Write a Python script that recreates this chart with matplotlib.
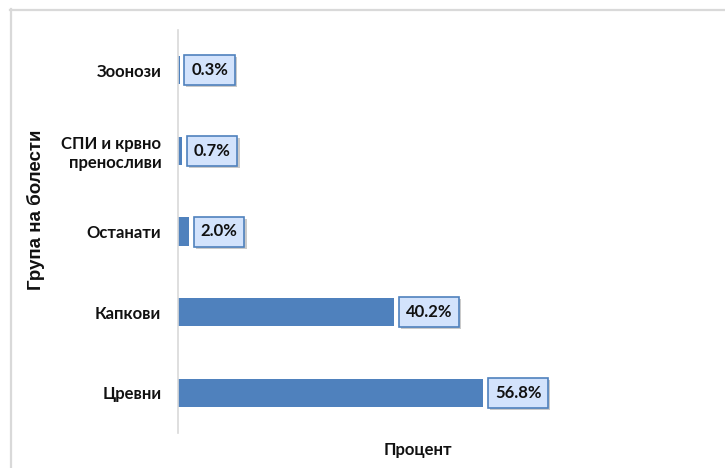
import matplotlib
matplotlib.use("Agg")
import matplotlib.pyplot as plt
from matplotlib.lines import Line2D
import matplotlib.patheffects as pe

categories = ["Цревни", "Капкови", "Останати", "СПИ и крвно\nпреносливи", "Зоонози"]
values = [56.8, 40.2, 2.0, 0.7, 0.3]
labels = ["56.8%", "40.2%", "2.0%", "0.7%", "0.3%"]

FONT = ["Lato", "DejaVu Sans"]
bar_color = "#4f81bd"

fig = plt.figure(figsize=(7.25, 4.68), dpi=100)
ax = fig.add_axes([178 / 725, 1 - 433 / 468, (715 - 178) / 725, (433 - 30) / 468])

y = list(range(len(categories)))
ax.barh(y, values, height=0.35, color=bar_color, zorder=2)
ax.set_xlim(0, 100)
ax.set_ylim(-0.5, len(categories) - 0.5)

for yi, v, lab in zip(y, values, labels):
    t = ax.annotate(lab, xy=(v, yi), xytext=(8.5, 0), textcoords="offset points",
                    ha="left", va="center", fontsize=12, fontweight="bold", family=FONT,
                    color="#111111",
                    bbox=dict(boxstyle="square,pad=0.42", facecolor="#d3e3fc",
                              edgecolor="#4f81bd", linewidth=1.2),
                    zorder=4)
    t.get_bbox_patch().set_path_effects([
        pe.SimplePatchShadow(offset=(1.5, -1.5), shadow_rgbFace="#8a8a8a", alpha=0.45),
        pe.Normal()])

ax.set_yticks(y)
ax.set_yticklabels(categories, fontsize=12, fontweight="bold", family=FONT, color="#111111")
ax.tick_params(axis="y", length=0, pad=12)
ax.set_xticks([])
for s in ["top", "right", "bottom"]:
    ax.spines[s].set_visible(False)
ax.spines["left"].set_color("#d9d9d9")
ax.spines["left"].set_linewidth(1.2)

fig.text(418 / 725, 1 - 450 / 468, "Процент", ha="center", va="center",
         fontsize=12, fontweight="bold", family=FONT, color="#111111")
fig.text(36 / 725, 1 - 210 / 468, "Група на болести", ha="center", va="center",
         rotation=90, fontsize=13.5, fontweight="bold",
         family=["Liberation Sans", "DejaVu Sans"], color="#111111")

# chart area border (top and left)
fig.add_artist(Line2D([10 / 725, 724 / 725], [1 - 9.5 / 468, 1 - 9.5 / 468],
                      transform=fig.transFigure, color="#d9d9d9", linewidth=1.6))
fig.add_artist(Line2D([10.5 / 725, 10.5 / 725], [0, 1 - 9 / 468],
                      transform=fig.transFigure, color="#d9d9d9", linewidth=1.6))

fig.savefig("out.png", dpi=100)
